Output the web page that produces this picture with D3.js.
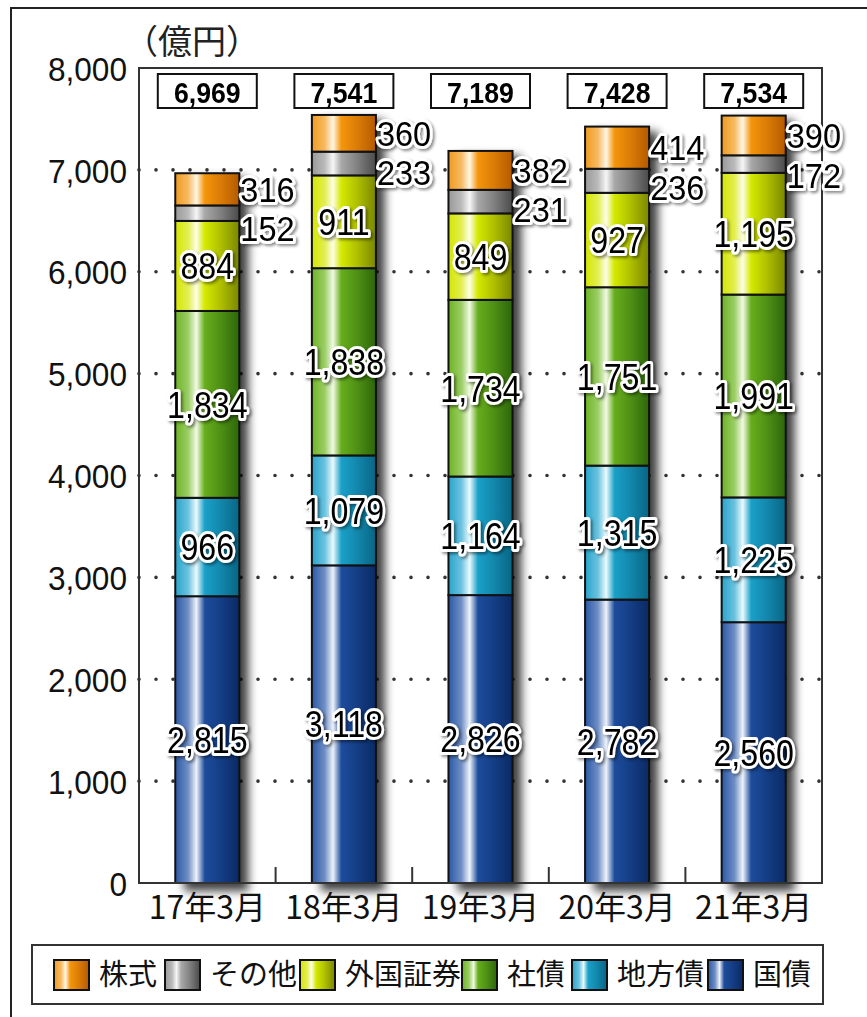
<!DOCTYPE html>
<html>
<head>
<meta charset="utf-8">
<script src="https://cdn.jsdelivr.net/npm/d3@7/dist/d3.min.js"></script>
<style>
  html, body { margin: 0; padding: 0; background: #fff; }
  svg { display: block; }
  .num { font-family: "Liberation Sans", Arial, sans-serif; }
  .cjk { font-family: "Noto Sans CJK JP", "Noto Sans", sans-serif; }
</style>
</head>
<body>
<svg id="chart" width="867" height="1017"></svg>
<script>
// 年度末ごとの保有残高（億円）
const categories = ["17年3月", "18年3月", "19年3月", "20年3月", "21年3月"];
const kokusai    = [2815, 3118, 2826, 2782, 2560];   // 国債
const chihousai  = [966, 1079, 1164, 1315, 1225];    // 地方債
const shasai     = [1834, 1838, 1734, 1751, 1991];   // 社債
const gaikoku    = [884, 911, 849, 927, 1195];       // 外国証券
const sonota     = [152, 233, 231, 236, 172];        // その他
const kabushiki  = [316, 360, 382, 414, 390];        // 株式
const totals     = [6969, 7541, 7189, 7428, 7534];   // 合計
const yTicks     = [0, 1000, 2000, 3000, 4000, 5000, 6000, 7000, 8000];
const unitLabel  = "（億円）";

// 積み上げ順（下から）
const seriesNames = ["国債", "地方債", "社債", "外国証券", "その他", "株式"];
const seriesData  = [kokusai, chihousai, shasai, gaikoku, sonota, kabushiki];
const legendOrder = ["株式", "その他", "外国証券", "社債", "地方債", "国債"];

// 系列ごとの円柱風グラデーション（左, ハイライト, 中, 右）
const palette = {
  "国債":   ["#2a58a6", "#eef3fb", "#1d4c9c", "#0a2a64"],
  "地方債": ["#27a4cc", "#eafafe", "#1aa0c8", "#086585"],
  "社債":   ["#6cb422", "#f2fae4", "#66ad1c", "#2c660b"],
  "外国証券": ["#d4e600", "#fdfee6", "#d4e900", "#7a8600"],
  "その他": ["#999999", "#f6f6f6", "#a8a8a8", "#4a4a4a"],
  "株式":   ["#f19a1e", "#fff6e4", "#f5950c", "#b45a00"]
};

const svg = d3.select("#chart");
const defs = svg.append("defs");
const gradId = {};

Object.entries(palette).forEach(([name, c], i) => {
  const g = defs.append("linearGradient")
    .attr("id", "grad" + i)
    .attr("x1", "0%").attr("x2", "100%").attr("y1", "0%").attr("y2", "0%");
  const mixL = d3.interpolateRgb(c[0], c[1])(0.35);
  g.append("stop").attr("offset", "0%").attr("stop-color", c[0]);
  g.append("stop").attr("offset", "20%").attr("stop-color", mixL);
  g.append("stop").attr("offset", "33%").attr("stop-color", c[1]);
  g.append("stop").attr("offset", "46%").attr("stop-color", c[2]);
  g.append("stop").attr("offset", "70%").attr("stop-color", d3.interpolateRgb(c[2], c[3])(0.4));
  g.append("stop").attr("offset", "100%").attr("stop-color", c[3]);
  gradId[name] = "grad" + i;
});

const shadow = defs.append("filter").attr("id", "barShadow")
  .attr("x", "-30%").attr("y", "-10%").attr("width", "180%").attr("height", "130%");
shadow.append("feGaussianBlur").attr("stdDeviation", 5);

const halo = defs.append("filter").attr("id", "labelShadow")
  .attr("x", "-20%").attr("y", "-30%").attr("width", "150%").attr("height", "170%");
halo.append("feDropShadow").attr("dx", 2).attr("dy", 2).attr("stdDeviation", 1.6)
  .attr("flood-color", "#000").attr("flood-opacity", 0.45);

// 外枠
svg.append("path")
  .attr("d", "M11,1017 V8 H867")
  .attr("fill", "none").attr("stroke", "#222").attr("stroke-width", 2);

const plotLeft = 139, plotRight = 822, plotTop = 68, plotBottom = 883;

const x = d3.scaleBand().domain(categories)
  .range([plotLeft, plotRight]).paddingInner(0.531).paddingOuter(0.2655);
const y = d3.scaleLinear().domain([0, 8000]).range([plotBottom, plotTop]);

// 点線の目盛線
svg.append("g").selectAll("line")
  .data(yTicks.filter(d => d > 0 && d < 8000))
  .join("line")
  .attr("x1", plotLeft).attr("x2", plotRight)
  .attr("y1", d => y(d)).attr("y2", d => y(d))
  .attr("stroke", "#333").attr("stroke-width", 3.6)
  .attr("stroke-linecap", "round").attr("stroke-dasharray", "0,17");

// 積み上げデータ
const rows = categories.map((cat, i) => {
  const r = { cat };
  seriesNames.forEach((s, k) => r[s] = seriesData[k][i]);
  return r;
});
const stacked = d3.stack().keys(seriesNames)(rows);
const topLayer = stacked[stacked.length - 1];

// 棒の影
svg.append("g").selectAll("rect")
  .data(rows)
  .join("rect")
  .attr("x", d => x(d.cat) + 9)
  .attr("y", (d, i) => y(topLayer[i][1]) + 5)
  .attr("width", x.bandwidth())
  .attr("height", (d, i) => y(0) - y(topLayer[i][1]) + 3)
  .attr("fill", "#000").attr("opacity", 0.75)
  .attr("filter", "url(#barShadow)");

// 棒（系列ごと）
svg.append("g").selectAll("g")
  .data(stacked)
  .join("g")
  .attr("fill", d => `url(#${gradId[d.key]})`)
  .selectAll("rect")
  .data(d => d)
  .join("rect")
  .attr("x", d => x(d.data.cat))
  .attr("y", d => y(d[1]))
  .attr("width", x.bandwidth())
  .attr("height", d => y(d[0]) - y(d[1]))
  .attr("stroke", "#111").attr("stroke-width", 2);

// プロット枠
svg.append("path")
  .attr("d", `M${plotLeft},${plotTop} H${plotRight} V${plotBottom} H${plotLeft} Z`)
  .attr("fill", "none").attr("stroke", "#333").attr("stroke-width", 2);

// 区切りの目盛（内向き）
svg.append("g").selectAll("line")
  .data(categories.slice(1))
  .join("line")
  .attr("x1", d => x(d) - x.step() * x.paddingInner() / 2)
  .attr("x2", d => x(d) - x.step() * x.paddingInner() / 2)
  .attr("y1", plotBottom).attr("y2", plotBottom - 16)
  .attr("stroke", "#333").attr("stroke-width", 2);

// Y軸
const yAxis = svg.append("g")
  .attr("transform", `translate(${plotLeft - 12},0)`)
  .call(d3.axisLeft(y).tickValues(yTicks).tickSize(0).tickPadding(0)
    .tickFormat(d3.format(",")));
yAxis.select(".domain").remove();
yAxis.selectAll("text")
  .style("font-family", "'Liberation Sans', Arial, sans-serif")
  .attr("font-size", 34).attr("fill", "#111").attr("dy", "0.36em")
  .attr("transform", "scale(0.93,1)");

svg.append("text").attr("class", "cjk")
  .attr("x", 124).attr("y", 54)
  .attr("font-size", 34).attr("fill", "#222")
  .text(unitLabel);

// X軸ラベル
const xAxis = svg.append("g")
  .attr("transform", `translate(0,${plotBottom + 20})`)
  .call(d3.axisBottom(x).tickSize(0).tickPadding(0));
xAxis.select(".domain").remove();
xAxis.selectAll("text")
  .style("font-family", "'Noto Sans CJK JP', sans-serif")
  .attr("font-size", 32).attr("fill", "#111").attr("dy", "0.5em");

// 数値ラベル（縦長の字形にするため横方向を縮める）
const labels = svg.append("g").attr("filter", "url(#labelShadow)");
function label(xp, yp, txt, anchor, size, sx) {
  labels.append("g").attr("transform", `translate(${xp},${yp}) scale(${sx},1)`)
    .append("text").attr("class", "num")
    .attr("text-anchor", anchor).attr("dy", "0.36em")
    .attr("font-size", size).attr("fill", "#000")
    .attr("stroke", "#fff").attr("stroke-width", 6)
    .attr("stroke-linejoin", "round").attr("paint-order", "stroke")
    .text(txt);
}
const fmt = d3.format(",");
const sideSize = 35, sideGap = 39.5;
stacked.forEach(layer => {
  layer.forEach((d, i) => {
    const v = d[1] - d[0];
    const cx = x(d.data.cat) + x.bandwidth() / 2;
    const cy = y((d[0] + d[1]) / 2);
    const sideX = x(d.data.cat) + x.bandwidth() + 1;
    if (layer.key === "株式") {
      label(sideX, cy, fmt(v), "start", sideSize, 0.93);
    } else if (layer.key === "その他") {
      const t = topLayer[i];
      const stockY = y((t[0] + t[1]) / 2);
      label(sideX, Math.max(cy, stockY + sideGap), fmt(v), "start", sideSize, 0.93);
    } else {
      label(cx, cy, fmt(v), "middle", 37, 0.87);
    }
  });
});

// 合計ボックス
const totalG = svg.append("g").selectAll("g")
  .data(categories)
  .join("g")
  .attr("transform", d => `translate(${x(d) + x.bandwidth() / 2},0)`);
totalG.append("rect")
  .attr("x", -49.5).attr("y", 74).attr("width", 99).attr("height", 34)
  .attr("fill", "#fff").attr("stroke", "#111").attr("stroke-width", 2);
totalG.append("text")
  .attr("text-anchor", "middle").attr("y", 103)
  .attr("transform", "scale(0.92,1)")
  .style("font-family", "'Liberation Sans', Arial, sans-serif")
  .attr("font-weight", "bold").attr("font-size", 29).attr("fill", "#000")
  .text((d, i) => fmt(totals[i]));

// 凡例
const legendX = [54, 165, 300, 462, 572, 708];
const legend = svg.append("g");
legend.append("rect")
  .attr("x", 32).attr("y", 945).attr("width", 791).attr("height", 59)
  .attr("fill", "#fff").attr("stroke", "#333").attr("stroke-width", 2);
legendOrder.forEach((name, i) => {
  const g = legend.append("g").attr("transform", `translate(${legendX[i]},960)`);
  g.append("rect").attr("width", 35).attr("height", 30)
    .attr("fill", `url(#${gradId[name]})`)
    .attr("stroke", "#111").attr("stroke-width", 2);
  g.append("text").attr("class", "cjk")
    .attr("x", 45).attr("y", 15).attr("dy", "0.36em")
    .attr("font-size", 29).attr("fill", "#111")
    .text(name);
});
</script>
</body>
</html>
